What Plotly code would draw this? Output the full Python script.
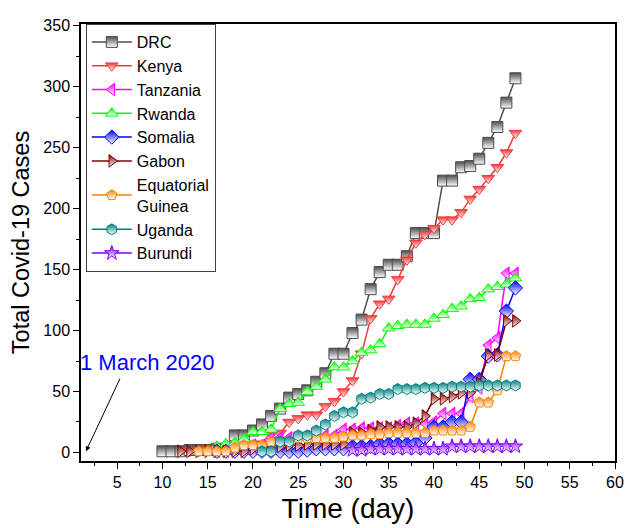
import plotly.graph_objects as go

# days since 1 March 2020 (day 1 = 1 March)
drc_days = list(range(10, 50))
drc = [1, 1, 1, 2, 2, 2, 3, 3, 14, 14, 18, 23, 30, 36, 45, 48, 51, 58, 65, 81,
       81, 98, 109, 134, 148, 154, 154, 161, 180, 180, 180, 223, 223, 234, 235,
       241, 254, 267, 287, 307]

kenya_days = list(range(13, 50))
kenya = [1, 1, 3, 3, 3, 7, 7, 7, 7, 15, 16, 25, 28, 31, 31, 38, 42, 50, 59, 81,
         110, 122, 126, 142, 158, 172, 179, 184, 191, 191, 197, 208, 216, 225,
         234, 246, 262]

tanzania_days = list(range(16, 50))
tanzania = [1, 1, 3, 6, 6, 6, 12, 12, 12, 12, 13, 13, 14, 14, 19, 19, 20, 20, 20,
            20, 22, 24, 24, 24, 25, 32, 32, 32, 46, 53, 88, 94, 147, 147]

rwanda_days = list(range(14, 50))
rwanda = [1, 1, 5, 7, 8, 11, 17, 17, 19, 36, 40, 41, 50, 54, 60, 70, 70, 75, 82,
          84, 89, 102, 104, 105, 105, 105, 110, 113, 118, 120, 126, 127, 134,
          136, 138, 143]

somalia_days = list(range(16, 50))
somalia = [1, 1, 1, 1, 1, 1, 1, 1, 1, 1, 2, 3, 3, 3, 3, 5, 5, 5, 7, 7, 7, 7, 8,
           12, 21, 21, 25, 25, 60, 60, 79, 80, 116, 135]

gabon_days = list(range(12, 50))
gabon = [1, 1, 1, 1, 1, 1, 1, 1, 3, 4, 5, 5, 6, 6, 7, 7, 7, 7, 7, 16, 16, 18, 21,
         21, 21, 21, 24, 30, 44, 44, 46, 49, 49, 57, 80, 80, 108, 108]

eqguinea_days = list(range(14, 50))
eqguinea = [1, 1, 1, 1, 4, 6, 6, 6, 9, 9, 9, 12, 12, 12, 12, 12, 13, 14, 14, 15,
            15, 16, 16, 16, 16, 16, 18, 18, 18, 18, 21, 41, 41, 51, 79, 79]

uganda_days = list(range(21, 50))
uganda = [1, 1, 9, 9, 14, 14, 18, 23, 30, 33, 33, 44, 45, 48, 48, 52, 52, 52, 53,
          53, 53, 54, 54, 54, 55, 55, 55, 55, 55]

burundi_days = list(range(31, 50))
burundi = [2, 2, 3, 3, 3, 3, 3, 3, 3, 3, 3, 5, 5, 5, 5, 5, 5, 5, 5]

SERIES = [
    ("DRC", drc_days, drc, "#4d4d4d", "square"),
    ("Kenya", kenya_days, kenya, "#f03c3c", "triangle-down"),
    ("Tanzania", tanzania_days, tanzania, "#ff00ff", "triangle-left"),
    ("Rwanda", rwanda_days, rwanda, "#00ff00", "triangle-up"),
    ("Somalia", somalia_days, somalia, "#0000ff", "diamond"),
    ("Gabon", gabon_days, gabon, "#800000", "triangle-right"),
    ("Equatorial<br>Guinea", eqguinea_days, eqguinea, "#ff8000", "pentagon"),
    ("Uganda", uganda_days, uganda, "#008080", "hexagon"),
    ("Burundi", burundi_days, burundi, "#8000ff", "star"),
]

FONT = "Arial, Liberation Sans, sans-serif"

fig = go.Figure()
for name, x, y, c, sym in SERIES:
    fig.add_trace(go.Scatter(
        x=x, y=y, name=name, mode="lines+markers",
        line=dict(color=c, width=1.5),
        marker=dict(symbol=sym, size=11, color=c,
                    line=dict(color=c, width=1),
                    gradient=dict(type="vertical", color="white")),
    ))

# "1 March 2020" note with arrow
fig.add_annotation(x=1.55, y=1, ax=37, ay=-79, text=" ", showarrow=True,
                   arrowhead=2, arrowsize=1, arrowwidth=1, arrowcolor="black")
fig.add_annotation(x=8.3, y=74, text="1 March 2020", showarrow=False,
                   font=dict(color="#0000ff", size=22, family=FONT))

axis_common = dict(
    showgrid=False, zeroline=False, showline=True, mirror=True,
    linecolor="black", linewidth=1.5, ticks="outside", ticklen=6,
    tickwidth=1.2, tickcolor="black",
    tickfont=dict(size=16, color="black", family=FONT),
)

fig.update_xaxes(range=[1, 60], tick0=0, dtick=5,
                 minor=dict(ticks="outside", ticklen=3, dtick=2.5, tickcolor="black"),
                 title=dict(text="Time (day)", font=dict(size=28, family=FONT, color="black"),
                            standoff=8),
                 **axis_common)
fig.update_yaxes(range=[-7, 351.5], tick0=0, dtick=50,
                 minor=dict(ticks="outside", ticklen=3, dtick=25, tickcolor="black"),
                 title=dict(text="Total Covid-19 Cases",
                            font=dict(size=23.5, family=FONT, color="black"), standoff=10),
                 **axis_common)

# the page body adds 8px on the left and top, so the figure is a bit smaller
fig.update_layout(
    width=625, height=520,
    margin=dict(l=70, r=9, t=12, b=66),
    paper_bgcolor="white", plot_bgcolor="white",
    font=dict(family=FONT, color="black"),
    legend=dict(x=0.009, y=1.0, xanchor="left", yanchor="top",
                bgcolor="white", bordercolor="#404040", borderwidth=1,
                font=dict(size=16, family=FONT, color="black"),
                itemwidth=40, tracegroupgap=0),
)

fig.write_html("out.html")
